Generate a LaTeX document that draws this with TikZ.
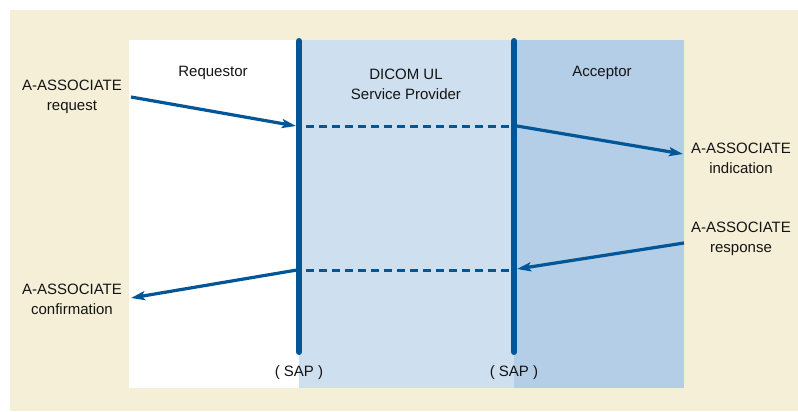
\documentclass[tikz,border=0pt]{standalone}
\usepackage{fontspec}
\setmainfont{Liberation Sans}
\usetikzlibrary{arrows.meta}
\definecolor{bgbeige}{RGB}{245,239,216}
\definecolor{lblue}{RGB}{206,223,239}
\definecolor{dblue}{RGB}{179,206,230}
\definecolor{lineblue}{RGB}{0,86,150}
\tikzset{
  lbl/.style={font=\fontsize{15}{20}\selectfont, align=center, inner sep=0pt, text=black!92},
  sapline/.style={draw=lineblue, line width=6pt, line cap=round},
  dash line/.style={draw=lineblue, line width=3pt, dash pattern=on 8pt off 5pt},
  msg/.style={draw=lineblue, line width=3.2pt, -{Stealth[length=14pt,width=9pt,inset=3pt]}},
}
\begin{document}
\begin{tikzpicture}[x=1pt,y=-1pt]
\useasboundingbox (0,0) rectangle (798,412);
% backgrounds
\fill[bgbeige] (10,10) rectangle (798,411);
\fill[white] (129,40) rectangle (299,388);
\fill[lblue] (299,40) rectangle (514,388);
\fill[dblue] (514,40) rectangle (684,388);
% headings
\node[lbl] (requestor) at (213,73) {Requestor};
\node[lbl] (provider) at (406,84) {DICOM UL\\Service Provider};
\node[lbl] (acceptor) at (602,73) {Acceptor};
% primitive labels
\node[lbl] (req) at (72,97) {A-ASSOCIATE\\request};
\node[lbl] (ind) at (741,158) {A-ASSOCIATE\\indication};
\node[lbl] (rsp) at (741,239) {A-ASSOCIATE\\response};
\node[lbl] (cnf) at (72,299) {A-ASSOCIATE\\confirmation};
\node[lbl] (sap1) at (299,373) {( SAP )};
\node[lbl] (sap2) at (514,373) {( SAP )};
% SAP lines
\coordinate (s1top) at (299,41);
\coordinate (s1bot) at (299,352);
\coordinate (s2top) at (514,41);
\coordinate (s2bot) at (514,352);
\path[sapline] (s1top) -- (s1bot);
\path[sapline] (s2top) -- (s2bot);
% anchor points
\coordinate (reqs) at (131,97);
\coordinate (reqe) at (296,126);
\coordinate (d1a) at (306,126);
\coordinate (d1b) at (509,126);
\coordinate (inds) at (517,126);
\coordinate (inde) at (683,154);
\coordinate (rsps) at (684,243);
\coordinate (rspe) at (517,269);
\coordinate (d2a) at (306,270);
\coordinate (d2b) at (509,270);
\coordinate (cnfs) at (297,270);
\coordinate (cnfe) at (131,298);
% messages
\path[msg] (reqs) -- (reqe);
\path[dash line] (d1a) -- (d1b);
\path[msg] (inds) -- (inde);
\path[msg] (rsps) -- (rspe);
\path[dash line] (d2a) -- (d2b);
\path[msg] (cnfs) -- (cnfe);
\end{tikzpicture}
\end{document}
